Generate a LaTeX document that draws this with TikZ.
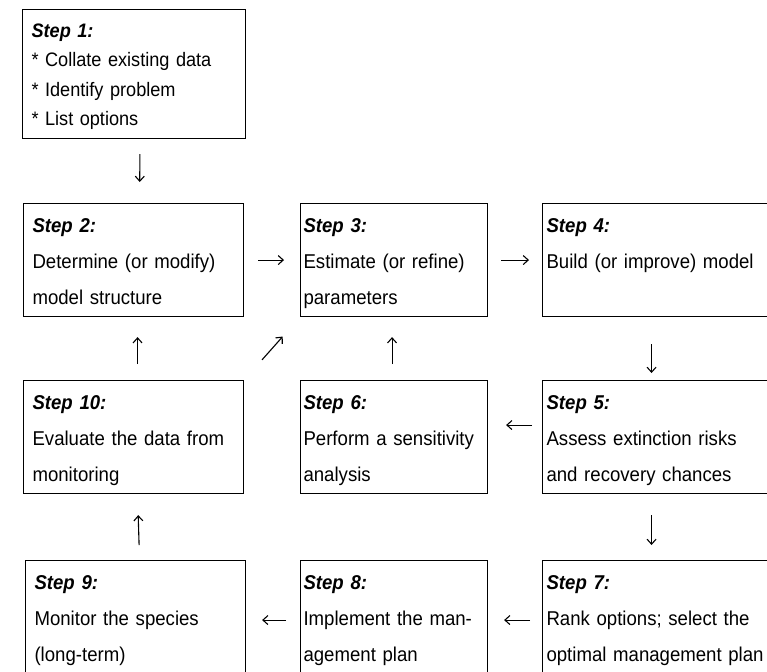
\documentclass[tikz,border=0pt]{standalone}
\usepackage{fontspec}
\setmainfont{Liberation Sans}[FakeStretch=0.93]
\usepackage{tikz}
\usetikzlibrary{arrows.meta}
\tikzstyle{stepbox}=[draw=black, line width=1.1pt, anchor=north west, align=left, inner ysep=10pt, text height=19pt, text depth=74pt, font=\fontsize{20}{36}\selectfont]
\tikzstyle{colA}=[inner xsep=9pt, text width=202pt]
\tikzstyle{colB}=[inner xsep=3pt, text width=181pt]
\tikzstyle{colC}=[inner xsep=4pt, text width=230pt]
\tikzstyle{flow}=[line width=1.1pt, -{Straight Barb[length=5pt,width=9pt]}]
\newcommand{\st}[1]{\textbf{\textit{Step #1:}}}

\begin{document}
\begin{tikzpicture}[x=1pt, y=-1pt]
    \fill[white] (0,0) rectangle (767,671);
    \useasboundingbox (0,0) rectangle (767,671);
    \clip (0,0) rectangle (767,671);

    %step 1
    \node[stepbox, colA, text width=205pt, text height=18pt, text depth=91pt, font=\fontsize{19.5}{29.3}\selectfont] (s1) at (22,9) {\st{1}\\{*} Collate existing data\\{*} Identify problem\\{*} List options};

    %row 1
    \node[stepbox, colA] (s2) at (23,203) {\st{2}\\Determine (or modify)\\model structure};
    \node[stepbox, colB] (s3) at (300,203) {\st{3}\\Estimate (or refine)\\parameters};
    \node[stepbox, colC] (s4) at (542,203) {\st{4}\\Build (or improve) model};

    %row 2
    \node[stepbox, colA] (s10) at (23,380) {\st{10}\\Evaluate the data from\\monitoring};
    \node[stepbox, colB] (s6) at (300,380) {\st{6}\\Perform a sensitivity\\analysis};
    \node[stepbox, colC] (s5) at (542,380) {\st{5}\\Assess extinction risks\\and recovery chances};

    %row 3
    \node[stepbox, colA] (s9) at (25,560) {\st{9}\\Monitor the species\\(long-term)};
    \node[stepbox, colB] (s8) at (300,560) {\st{8}\\Implement the man-\\agement plan};
    \node[stepbox, colC] (s7) at (542,560) {\st{7}\\Rank options; select the\\optimal management plan};

    %arrows
    \draw[flow, shorten <=15pt, shorten >=21pt] ([xshift=6pt]s1.south) -- ([xshift=6pt]s2.north);
    \draw[flow, shorten <=14pt, shorten >=16pt] (s2.east) -- (s3.west);
    \draw[flow, shorten <=13pt, shorten >=13pt] (s3.east) -- (s4.west);
    \draw[flow, shorten <=27pt, shorten >=7pt] ([xshift=-10pt]s4.south) -- ([xshift=-10pt]s5.north);
    \draw[flow, shorten <=10pt, shorten >=18pt] ([yshift=12pt]s5.west) -- ([yshift=12pt]s6.east);
    \draw[flow, shorten <=16pt, shorten >=20pt] ([xshift=-2pt]s6.north) -- ([xshift=-2pt]s3.south);
    \draw[flow, shorten <=16pt, shorten >=20pt] ([xshift=4pt]s10.north) -- ([xshift=4pt]s2.south);
    \draw[flow, shorten <=27pt, shorten >=26pt] (s10.north east) -- (s3.south west);
    \draw[flow, shorten <=21pt, shorten >=15pt] ([xshift=-10pt]s5.south) -- ([xshift=-10pt]s7.north);
    \draw[flow, shorten <=12pt, shorten >=16pt] ([yshift=-3pt]s7.west) -- ([yshift=-3pt]s8.east);
    \draw[flow, shorten <=14pt, shorten >=16pt] ([yshift=-3pt]s8.west) -- ([yshift=-3pt]s9.east);
    \draw[flow, shorten <=15pt, shorten >=21pt] ([xshift=4pt]s9.north) -- ([xshift=4pt]s10.south);

\end{tikzpicture}
\end{document}
